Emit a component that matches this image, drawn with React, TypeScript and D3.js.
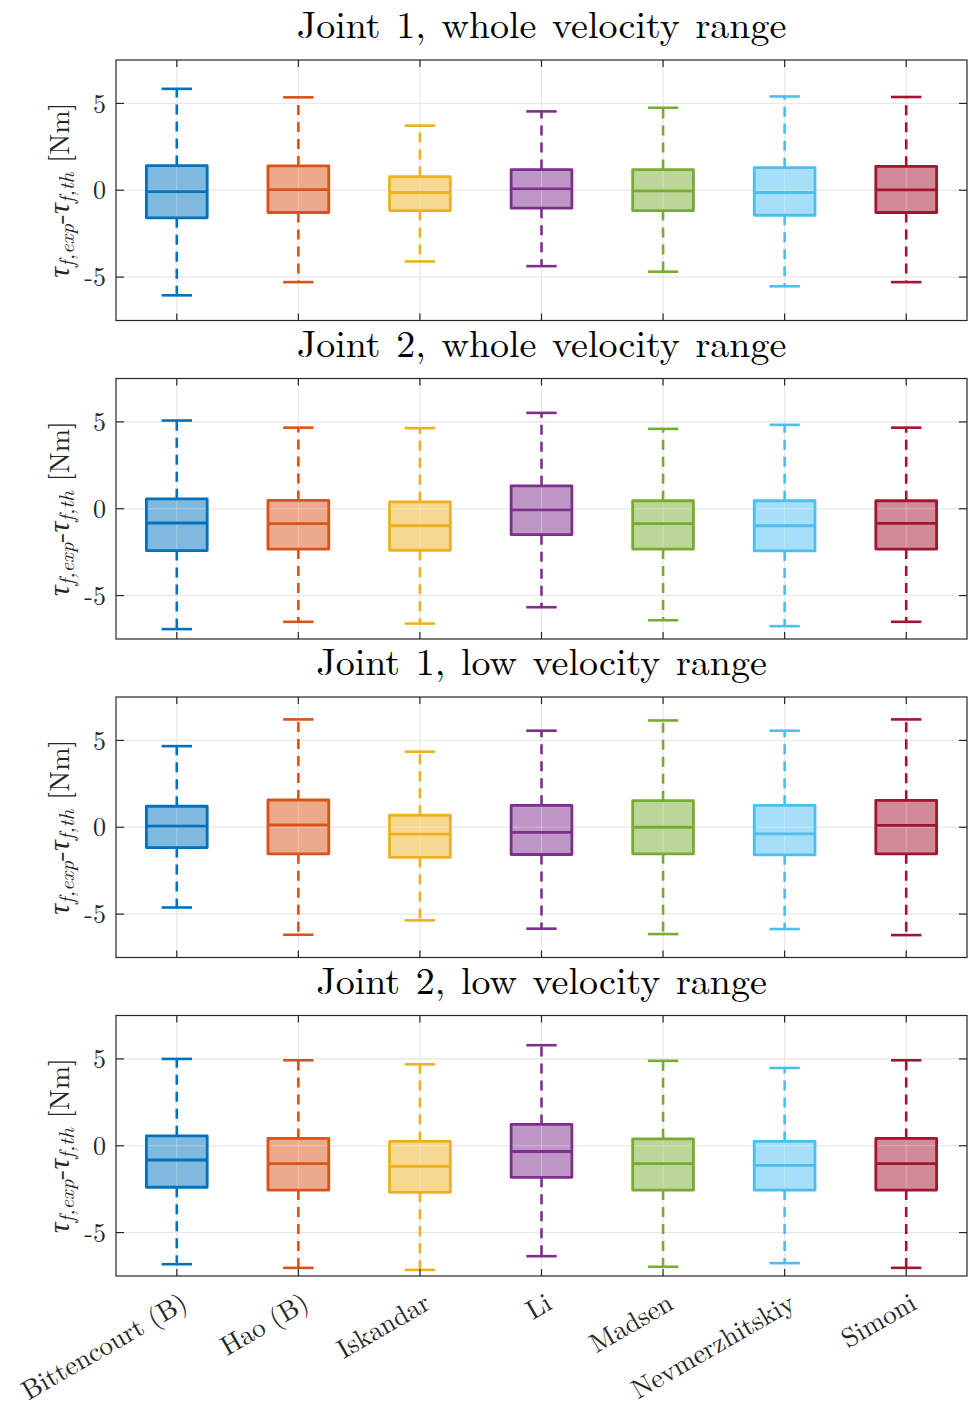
import React from "react";
import * as d3 from "d3";

const categories = ["Bittencourt (B)", "Hao (B)", "Iskandar", "Li", "Madsen", "Nevmerzhitskiy", "Simoni"];
const colors = ["#0072BD", "#D95319", "#EDB120", "#7E2F8E", "#77AC30", "#4DBEEE", "#A2142F"];
const panelTitles = [
  "Joint 1, whole velocity range",
  "Joint 2, whole velocity range",
  "Joint 1, low velocity range",
  "Joint 2, low velocity range",
];
const yTicks = [-5, 0, 5];
const yTickLabels = ["-5", "0", "5"];

// each row: [lower whisker, Q1, median, Q3, upper whisker]
const joint1Whole = [
  [-6.05, -1.59, -0.08, 1.42, 5.84],
  [-5.29, -1.28, 0.04, 1.4, 5.35],
  [-4.1, -1.17, -0.13, 0.79, 3.72],
  [-4.37, -1.03, 0.08, 1.19, 4.54],
  [-4.69, -1.17, -0.04, 1.19, 4.75],
  [-5.53, -1.44, -0.13, 1.3, 5.4],
  [-5.29, -1.28, 0.02, 1.38, 5.37],
];
const joint2Whole = [
  [-6.93, -2.41, -0.82, 0.57, 5.08],
  [-6.51, -2.32, -0.86, 0.48, 4.67],
  [-6.61, -2.39, -0.98, 0.4, 4.64],
  [-5.67, -1.49, -0.06, 1.32, 5.52],
  [-6.42, -2.32, -0.86, 0.46, 4.6],
  [-6.76, -2.43, -0.98, 0.46, 4.83],
  [-6.51, -2.32, -0.84, 0.46, 4.67],
];
const joint1Low = [
  [-4.62, -1.17, 0.06, 1.21, 4.67],
  [-6.19, -1.53, 0.13, 1.57, 6.21],
  [-5.36, -1.74, -0.4, 0.69, 4.35],
  [-5.84, -1.57, -0.29, 1.26, 5.56],
  [-6.15, -1.53, 0.0, 1.53, 6.15],
  [-5.86, -1.59, -0.38, 1.26, 5.56],
  [-6.21, -1.53, 0.11, 1.55, 6.21],
];
const joint2Low = [
  [-6.82, -2.39, -0.82, 0.57, 5.0],
  [-7.03, -2.55, -1.03, 0.42, 4.92],
  [-7.15, -2.68, -1.19, 0.25, 4.69],
  [-6.36, -1.82, -0.33, 1.23, 5.79],
  [-6.97, -2.55, -1.03, 0.4, 4.89],
  [-6.76, -2.55, -1.13, 0.25, 4.48],
  [-7.03, -2.55, -1.03, 0.42, 4.92],
];
const panels = [joint1Whole, joint2Whole, joint1Low, joint2Low];

const W = 969;
const H = 1404;
const LEFT = 116;
const RIGHT = 967;
const TOP0 = 60;
const STEP = 318.5;
const PH = 260.5;
const FONT = "'Latin Modern Roman','CMU Serif','Liberation Serif',serif";
const AX = "#262626";

const x = d3.scaleLinear().domain([0.5, 7.5]).range([LEFT, RIGHT]);
const boxHalf = 0.25;
const capHalf = 0.125;

function fillColor(c: string) {
  const rgb = d3.rgb(c);
  return d3.rgb((rgb.r + 255) / 2, (rgb.g + 255) / 2, (rgb.b + 255) / 2).formatHex();
}

function Panel({ idx }: { idx: number }) {
  const top = TOP0 + idx * STEP;
  const bottom = top + PH;
  const y = d3.scaleLinear().domain([-7.5, 7.5]).range([bottom, top]);
  const data = panels[idx];
  const cy = (top + bottom) / 2;
  const xs = d3.range(1, categories.length + 1);
  const gridLines = (stroke: string, opacity: number) => (
    <g stroke={stroke} strokeOpacity={opacity} strokeWidth={1}>
      {xs.map((v) => (
        <line key={"gx" + v} x1={x(v)} x2={x(v)} y1={top} y2={bottom} />
      ))}
      {yTicks.map((v) => (
        <line key={"gy" + v} x1={LEFT} x2={RIGHT} y1={y(v)} y2={y(v)} />
      ))}
    </g>
  );
  return (
    <g>
      <text x={(LEFT + RIGHT) / 2} y={top - 22} textAnchor="middle" fontFamily={FONT} fontSize={38} wordSpacing={3} fill="#000">
        {panelTitles[idx]}
      </text>
      {gridLines("#dcdcdc", 1)}
      {data.map((d, i) => (
        <rect
          key={"bf" + i}
          x={x(i + 1 - boxHalf)}
          y={y(d[3])}
          width={x(i + 1 + boxHalf) - x(i + 1 - boxHalf)}
          height={y(d[1]) - y(d[3])}
          fill={fillColor(colors[i])}
        />
      ))}
      {gridLines("#ffffff", 0.3)}
      {data.map((d, i) => {
        const c = colors[i];
        const cx = x(i + 1);
        return (
          <g key={"b" + i} stroke={c} fill="none">
            <line x1={cx} x2={cx} y1={y(d[3])} y2={y(d[4])} strokeWidth={2.6} strokeDasharray="10 7" />
            <line x1={cx} x2={cx} y1={y(d[1])} y2={y(d[0])} strokeWidth={2.6} strokeDasharray="10 7" />
            <line x1={x(i + 1 - capHalf)} x2={x(i + 1 + capHalf)} y1={y(d[4])} y2={y(d[4])} strokeWidth={2.6} />
            <line x1={x(i + 1 - capHalf)} x2={x(i + 1 + capHalf)} y1={y(d[0])} y2={y(d[0])} strokeWidth={2.6} />
            <rect
              x={x(i + 1 - boxHalf)}
              y={y(d[3])}
              width={x(i + 1 + boxHalf) - x(i + 1 - boxHalf)}
              height={y(d[1]) - y(d[3])}
              strokeWidth={2.8}
              strokeLinejoin="round"
            />
            <line x1={x(i + 1 - boxHalf)} x2={x(i + 1 + boxHalf)} y1={y(d[2])} y2={y(d[2])} strokeWidth={2.8} />
          </g>
        );
      })}
      <rect x={LEFT} y={top} width={RIGHT - LEFT} height={PH} fill="none" stroke={AX} strokeWidth={1.2} />
      <g stroke={AX} strokeWidth={1.2}>
        {xs.map((v) => (
          <g key={"t" + v}>
            <line x1={x(v)} x2={x(v)} y1={bottom} y2={bottom - 7} />
            <line x1={x(v)} x2={x(v)} y1={top} y2={top + 7} />
          </g>
        ))}
        {yTicks.map((v) => (
          <g key={"ty" + v}>
            <line x1={LEFT} x2={LEFT + 8} y1={y(v)} y2={y(v)} />
            <line x1={RIGHT} x2={RIGHT - 8} y1={y(v)} y2={y(v)} />
          </g>
        ))}
      </g>
      {yTicks.map((v, k) => (
        <text key={"yl" + v} x={106} y={y(v)} dy="0.35em" textAnchor="end" fontFamily={FONT} fontSize={26} fill={AX}>
          {yTickLabels[k]}
        </text>
      ))}
      <text transform={`translate(69,${cy}) rotate(-90)`} textAnchor="middle" fontFamily={FONT} fontSize={30} fill={AX}>
        <tspan fontStyle="italic">τ</tspan>
        <tspan fontStyle="italic" fontSize={21} dy={5}>f,exp</tspan>
        <tspan dy={-5}>-</tspan>
        <tspan fontStyle="italic">τ</tspan>
        <tspan fontStyle="italic" fontSize={21} dy={5}>f,th</tspan>
        <tspan dy={-5} dx={10} fontSize={28}>[Nm]</tspan>
      </text>
      {idx === panels.length - 1 &&
        categories.map((c, i) => (
          <text
            key={"xl" + i}
            transform={`translate(${x(i + 1) + 12},${bottom + 32}) rotate(-30)`}
            textAnchor="end"
            fontFamily={FONT}
            fontSize={27}
            fill={AX}
          >
            {c}
          </text>
        ))}
    </g>
  );
}

export default function App() {
  return (
    <svg width={W} height={H} style={{ position: "absolute", left: 0, top: 0, background: "#fff" }}>
      <rect width={W} height={H} fill="#fff" />
      {panels.map((_, i) => (
        <Panel key={i} idx={i} />
      ))}
    </svg>
  );
}
